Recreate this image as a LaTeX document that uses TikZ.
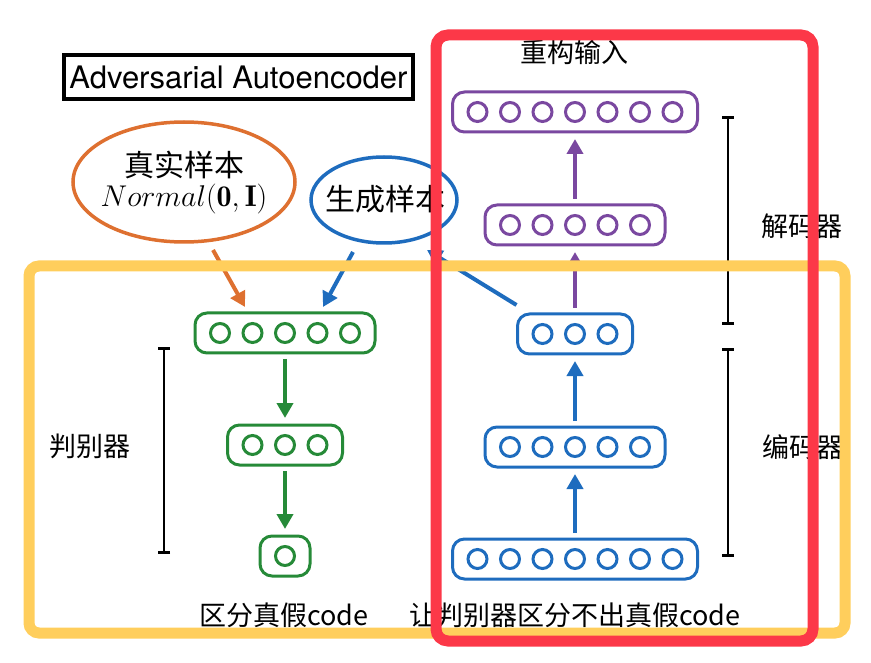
\RequirePackage{fix-cm}
\documentclass[tikz,border=0pt]{standalone}
\usepackage{fontspec}
\usepackage{xcolor}
\usepackage{tikz}
\usetikzlibrary{positioning,arrows.meta,calc,shapes.geometric}
\newfontfamily\cjk{Noto Sans CJK SC}
\newfontfamily\heros{TeX Gyre Heros}
\definecolor{cgreen}{RGB}{38,138,56}
\definecolor{cblue}{RGB}{30,108,190}
\definecolor{cpurple}{RGB}{122,72,160}
\definecolor{corange}{RGB}{222,112,48}
\definecolor{cred}{RGB}{252,56,72}
\definecolor{cyellow}{RGB}{255,206,92}
\tikzset{
	layerbox/.style={draw=#1, line width=3pt, rounded corners=12pt,
		minimum height=40pt, inner sep=0pt, outer sep=0pt},
	neuron/.style={draw=#1, line width=3pt},
	flow/.style={draw=#1, line width=4pt, -{Triangle[width=16pt,length=15pt]},
		shorten <=6pt, shorten >=7pt},
	spanbar/.style={line width=2.8pt, {Bar[width=12pt]}-{Bar[width=12pt]}},
	lbl/.style={font=\cjk\fontsize{27}{31}\selectfont, inner sep=0pt},
}
% \layer{name}{x,y}{units}{colour}
\newcommand{\layer}[4]{%
	\node[layerbox=#4, minimum width={(#3-1)*32.5+50}] (#1) at (#2) {};
	\foreach \k in {1,...,#3}
	\draw[neuron=#4] ($(#1.center)+({(\k-(#3+1)/2)*32.5},0)$) circle (9.5pt);
}

\begin{document}
\begin{tikzpicture}[x=1pt, y=-1pt]
		\useasboundingbox (0,0) rectangle (871,663);
		% title
		\node[draw, line width=3.5pt, minimum width=349pt, minimum height=44pt,
		inner sep=0pt, font=\heros\fontsize{31}{36}\selectfont]
		(title) at (238.5,77) {Adversarial Autoencoder};
		% samples
		\node[ellipse, draw=corange, line width=3.5pt, minimum width=222pt,
		minimum height=120pt, inner sep=0pt, outer sep=0pt] (real) at (184,182) {};
		\node[lbl, font=\cjk\fontsize{30}{30}\selectfont, align=center]
		(realtxt) at (184,182.5) {真实样本\\$Normal(\mathbf{0},\mathbf{I})$};
		\node[ellipse, draw=cblue, line width=3.5pt, minimum width=146pt,
		minimum height=86pt, inner sep=0pt, outer sep=0pt] (fake) at (384,200) {};
		\node[lbl, font=\cjk\fontsize{30}{34}\selectfont] (faketxt) at (385,199) {生成样本};
		% autoencoder (encoder up to code, decoder up to output)
		\layer{enc1}{575,559}{7}{cblue}
		\layer{enc2}{575,447}{5}{cblue}
		\layer{code}{575,334}{3}{cblue}
		\layer{dec1}{575,225}{5}{cpurple}
		\layer{dec2}{575,112}{7}{cpurple}
		\draw[flow=cblue] (enc1) -- (enc2);
		\draw[flow=cblue] (enc2) -- (code);
		\draw[flow=cpurple] (code) -- (dec1);
		\draw[flow=cpurple] (dec1) -- (dec2);
		% discriminator
		\layer{dis1}{285,333}{5}{cgreen}
		\layer{dis2}{285,445}{3}{cgreen}
		\layer{dis3}{285,556}{1}{cgreen}
		\draw[flow=cgreen] (dis1) -- (dis2);
		\draw[flow=cgreen] (dis2) -- (dis3);
		% samples fed to the discriminator, code fed back as fake sample
		\draw[flow=corange, shorten <=0pt, shorten >=0pt]
		($(real.south)+(29,8)$) -- ($(dis1.north)+(-40,-6)$);
		\draw[flow=cblue, shorten <=0pt, shorten >=0pt]
		($(fake.south)+(-31,9)$) -- ($(dis1.north)+(38,-6)$);
		\draw[flow=cblue, shorten <=0pt, shorten >=0pt]
		($(code.north west)+(-1,-9)$) -- ($(fake.south)+(43,7)$);
		% brackets and labels
		\draw[spanbar] (164,347) -- (164,554);
		\draw[spanbar] (728,116) -- (728,325);
		\draw[spanbar] (728,348) -- (728,557);
		\node[lbl] (dislbl) at (90,446) {判别器};
		\node[lbl] (declbl) at (802,226) {解码器};
		\node[lbl] (enclbl) at (803,447) {编码器};
		\node[lbl] (recon) at (574,52) {重构输入};
		\node[lbl] (distask) at (284,615) {区分真假code};
		\node[lbl] (enctask) at (575,615) {让判别器区分不出真假code};
		% frames: adversarial part, then autoencoder part on top
		\draw[cyellow, line width=11pt, rounded corners=10pt] (29,266) rectangle (845,633);
		\draw[cred, line width=11pt, rounded corners=12pt] (436,35) rectangle (813,641);
	\end{tikzpicture}
\end{document}
